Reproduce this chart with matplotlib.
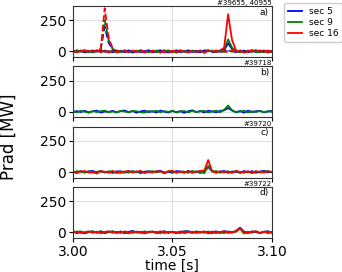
import numpy as np
import matplotlib
matplotlib.use('Agg')
import matplotlib.pyplot as plt

# time grid [s]
t = np.linspace(3.0, 3.1, 51)

# panel a) shot 39655 (solid)
a_blue = [3, -5, 8, -2, 6, -8, 4, 10, -3, 2,
          -6, 7, 1, -4, 9, -2, 5, -7, 3, 8,
          -1, 4, -9, 6, 2, -3, 7, -5, 1, 9,
          -4, 3, -6, 5, 10, -2, 4, -3, 10, 65,
          20, -4, 6, -8, 3, 9, -5, 2, 7, -3,
          4]
a_green = [-4, 6, -2, 9, -7, 3, 5, -6, 8, -1,
           4, -8, 6, 2, -5, 7, -3, 10, -4, 1,
           6, -7, 3, 8, -2, 5, -9, 4, -1, 7,
           3, -5, 8, -3, 6, 1, -6, 9, 15, 97,
           30, 2, -7, 5, -2, 8, -4, 6, -6, 3,
           -2]
a_red = [-6, 9, 2, -8, 5, -3, 11, -5, 4, -9,
         7, 3, -6, 10, -2, -8, 6, 2, -10, 8,
         -4, 5, 9, -7, 3, -5, 10, -2, 6, -8,
         4, -3, 7, -9, 5, 2, -6, 8, 30, 298,
         90, 10, -5, 8, -7, 4, 11, -3, 6, -9,
         5]
# panel a) shot 40955 (dashed)
a2_blue = [5, -4, 7, -6, 3, 8, -2, 20, 200, 70,
           15, -5, 6, -3, 9, -7, 2, 5, -4, 8,
           -6, 3, 7, -2, -8, 5, 1, 9, -5, 4,
           -3, 6, -7, 8, 2, -4, 5, -6, 9, -2,
           3, -5, 7, 4, -8, 6, -1, 8, -4, 2,
           -3]
a2_green = [-3, 8, -5, 2, 9, -6, 4, 18, 250, 90,
            20, 6, -4, 8, -7, 3, 10, -2, 5, -8,
            4, 7, -5, 2, 9, -3, -6, 6, 3, -7,
            8, -2, 5, -9, 4, 7, -3, 6, -5, 9,
            -1, 5, -6, 3, 8, -4, 2, -7, 6, 4,
            -5]
a2_red = [8, -7, 4, 10, -9, 2, 6, 15, 347, 110,
          25, -8, 9, 3, -6, 7, -4, 11, -2, -9,
          6, 4, -7, 10, -3, 5, -8, 8, 2, -6,
          9, -4, 3, -10, 7, 1, 8, -5, 4, -7,
          10, -3, 6, -8, 2, 9, -6, 5, -2, 8,
          -4]

# panel b) shot 39718
b_blue = [-3, 6, -2, 8, -5, 4, 9, -6, 2, -1,
          7, -4, 5, 10, -3, 6, -7, 3, 8, -2,
          4, -5, 9, 1, -6, 7, -3, 5, -8, 4,
          12, -2, 6, -5, 8, 3, -4, 7, 12, 30,
          10, -3, 6, -7, 9, -2, 4, 8, -5, 3,
          6]
b_green = [4, -5, 7, 1, -8, 6, -2, 5, 9, -4,
           3, -6, 8, 2, -5, 7, 4, -3, -7, 6,
           1, 8, -4, 5, -2, 9, -6, 3, 6, -5,
           8, -3, 4, 7, -6, 2, 9, -4, 15, 50,
           12, -5, 3, 8, -6, 4, -2, 7, -4, 5,
           -1]

# panel c) shot 39720
c_blue = [2, -6, 8, -3, 5, 9, -4, 7, -2, 3,
          -7, 6, 4, -5, 9, -1, 5, -8, 3, 7,
          -3, 6, 10, -4, 2, -6, 8, 4, -5, 9,
          -2, 5, -7, 6, 40, 8, -4, 3, 9, -6,
          5, 2, -5, 8, -3, 7, -6, 4, 10, -2,
          3]
c_green = [-5, 7, 3, -4, 8, -6, 2, 9, -3, 6,
           4, -8, 7, 1, -5, 9, -2, 6, -7, 4,
           8, -3, 5, -9, 7, 2, -4, 6, 3, -6,
           9, -1, 4, -10, 50, 5, 8, -5, 2, 6,
           -3, 9, -6, 4, 1, -4, 7, -5, 5, 8,
           -2]
c_red = [6, -8, 4, 9, -5, 2, -12, 7, 3, -6,
         9, -2, -7, 5, 8, -4, 3, 10, -6, 2,
         -3, 7, 4, -8, 6, 11, -5, 3, -2, 8,
         -6, 4, 9, 10, 97, 6, -5, 7, -3, 4,
         -7, 9, 2, -5, 8, -9, 5, 3, -4, 7,
         1]

# panel d) shot 39722
d_blue = [9, -6, 3, -8, 5, 7, -3, 10, -5, 2,
          6, -4, 8, -7, 4, 12, -2, 5, -8, 3,
          7, -5, 2, 9, -3, 6, -6, 4, 8, 10,
          -4, 7, -2, 5, -6, 3, 8, -5, 10, 4,
          -3, 12, 38, 6, -4, 8, 2, -6, 5, 9,
          -3]
d_green = [-4, 5, 8, -6, 3, 9, -2, 6, -7, 4,
           10, -3, 5, 2, -8, 7, 4, -5, 9, -2,
           6, 3, -7, 8, -4, 5, 1, -6, 9, 3,
           -5, 7, 4, -3, 8, -8, 5, 2, -6, 7,
           4, 6, 30, -9, 5, -3, 8, -5, 3, 6,
           -2]
d_red = [3, 7, -5, 2, 8, -4, 6, -7, 4, 9,
         -3, 5, -6, 8, 2, -5, 7, 3, -8, 6,
         4, -2, 9, -6, 5, 1, -4, 8, -7, 3,
         6, -5, 2, 8, -3, 7, -6, 4, 9, -5,
         3, 8, 35, 2, -6, 5, 9, -4, 6, -7,
         4]

labels = ['sec 5', 'sec 9', 'sec 16']
colors = ['b', 'g', 'r']
shots = ['#39655, 40955', '#39718', '#39720', '#39722']
letters = ['a)', 'b)', 'c)', 'd)']

panels = [
    [a_blue, a_green, a_red],
    [b_blue, b_green, None],
    [c_blue, c_green, c_red],
    [d_blue, d_green, d_red],
]
dashed = [a2_blue, a2_green, a2_red]

fig, axs = plt.subplots(4, 1, figsize=(3.42, 2.72), dpi=100, sharex=True, sharey=True)
plt.subplots_adjust(left=0.213, right=0.795, top=0.978, bottom=0.125, hspace=0.18)

lw = 1.3
for k, ax in enumerate(axs):
    for j in range(3):
        y = panels[k][j]
        if y is not None:
            ax.plot(t, y, color=colors[j], lw=lw, label=labels[j])
    if k == 0:
        for j in range(3):
            ax.plot(t, dashed[j], color=colors[j], lw=lw, ls='--')
    ax.grid(True, color='#e0e0e0', lw=0.8)
    ax.set_axisbelow(True)
    ax.set_yticks([0, 250])
    ax.tick_params(labelsize=10, length=3, width=0.8, pad=2)
    ax.text(1.0, 1.0, shots[k], transform=ax.transAxes, ha='right', va='bottom', fontsize=5)
    ax.text(0.985, 0.97, letters[k], transform=ax.transAxes, ha='right', va='top', fontsize=6.5)
    for s in ax.spines.values():
        s.set_linewidth(0.8)
        s.set_color('#333333')

axs[0].set_ylim(-45, 365)
axs[-1].set_xlim(3.0, 3.1)
axs[-1].set_xticks([3.0, 3.05, 3.1])
axs[-1].set_xticklabels(['3.00', '3.05', '3.10'])
axs[-1].set_xlabel('time [s]', fontsize=10, labelpad=0)
fig.text(0.026, 0.498, 'Prad [MW]', rotation=90, ha='center', va='center', fontsize=12)

h, l = axs[0].get_legend_handles_labels()
fig.legend(h[:3], l[:3], loc='upper left', bbox_to_anchor=(0.818, 1.005), fontsize=6.5,
           handlelength=1.6, borderpad=0.4, labelspacing=0.25, handletextpad=0.7,
           framealpha=1)

fig.savefig('out.png', dpi=100)
